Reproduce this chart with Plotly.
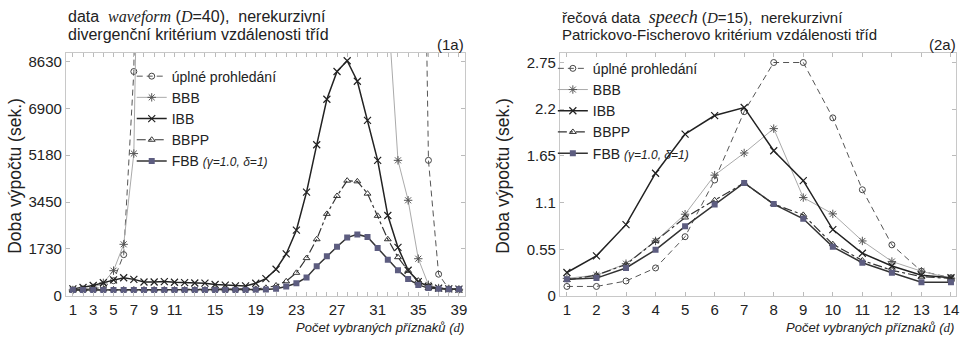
import plotly.graph_objects as go

# ---------------- data: waveform (D=40), d = 1..39 ----------------
d_wave = list(range(1, 40))
wave_exh = [220, 235, 260, 320, 560, 1520, 8260, 40000] + [None]*26 + [30000, 4990, 800, 260, 235]
wave_bbb = [220, 250, 300, 480, 930, 1900, 5240, 27000] + [None]*23 + [10700, 4990, 3520, 1370, 410, 290, 260, 245]
wave_ibb = [260, 310, 385, 490, 590, 670, 610, 515, 515, 528, 503, 490, 476, 470, 420, 396, 370, 370,
            467, 636, 982, 1546, 2420, 3822, 5563, 7239, 8259, 8655, 7900, 6462, 4987, 2959, 1787,
            946, 528, 349, 288, 260, 250]
wave_bbpp = [220, 225, 230, 235, 240, 235, 235, 235, 235, 235, 235, 235, 235, 235, 235, 235, 240, 245,
             260, 300, 385, 540, 852, 1392, 2086, 3020, 3680, 4243, 4218, 3765, 2949, 2086, 1427,
             924, 565, 349, 270, 250, 245]
wave_fbb = [216, 216, 216, 216, 216, 216, 216, 216, 216, 216, 216, 216, 216, 216, 216, 216, 216, 220,
            225, 240, 266, 349, 467, 683, 1090, 1463, 1809, 2147, 2265, 2168, 1762, 1330, 946,
            622, 406, 288, 262, 250, 250]
wave_yticks = [0, 1730, 3450, 5180, 6900, 8630]
wave_xlabels = [1, 3, 5, 7, 9, 11, 15, 19, 23, 27, 31, 35, 39]

# ---------------- data: speech (D=15), d = 1..14 ----------------
d_speech = list(range(1, 15))
sp_exh = [0.112, 0.112, 0.176, 0.33, 0.698, 1.366, 2.171, 2.75, 2.75, 2.098, 1.251, 0.602, 0.291, 0.215]
sp_bbb = [0.207, 0.245, 0.38, 0.648, 0.963, 1.423, 1.684, 1.971, 1.159, 0.967, 0.648, 0.406, 0.291, 0.207]
sp_ibb = [0.276, 0.472, 0.84, 1.446, 1.907, 2.125, 2.22, 1.711, 1.358, 0.782, 0.503, 0.353, 0.245, 0.215]
sp_bbpp = [0.188, 0.245, 0.37, 0.648, 0.924, 1.128, 1.331, 1.082, 0.955, 0.61, 0.418, 0.303, 0.227, 0.207]
sp_fbb = [0.196, 0.21, 0.33, 0.544, 0.82, 1.078, 1.331, 1.082, 0.909, 0.579, 0.391, 0.273, 0.161, 0.161]
sp_yticks = [0, 0.55, 1.1, 1.65, 2.2, 2.75]

names = ["úplné prohledání", "BBB", "IBB", "BBPP",
         "FBB <span style='font-size:12px'><i>(γ=1.0, δ=1)</i></span>"]

W, H = 961, 344
FONT = "Liberation Sans, Arial, sans-serif"
TXT = "#222222"

styles = [
    dict(line=dict(color="#555555", width=1, dash="6px,4px"),
         marker=dict(symbol="circle-open", size=6, color="#444444", line=dict(width=1))),
    dict(line=dict(color="#aaaaaa", width=1),
         marker=dict(symbol="asterisk-open", size=7, color="#555555", line=dict(width=1))),
    dict(line=dict(color="#222222", width=1.5),
         marker=dict(symbol="x-thin-open", size=7, color="#222222", line=dict(width=1.2))),
    dict(line=dict(color="#333333", width=1.2, dash="dashdot"),
         marker=dict(symbol="triangle-up-open", size=6, color="#333333", line=dict(width=1))),
    dict(line=dict(color="#333333", width=1.5),
         marker=dict(symbol="square", size=6, color="#5d5d80", line=dict(width=0))),
]

fig = go.Figure()

wave_series = [wave_exh, wave_bbb, wave_ibb, wave_bbpp, wave_fbb]
sp_series = [sp_exh, sp_bbb, sp_ibb, sp_bbpp, sp_fbb]

for i, ys in enumerate(wave_series):
    fig.add_trace(go.Scatter(x=d_wave, y=ys, mode="lines+markers", name=names[i],
                             xaxis="x", yaxis="y", legend="legend", cliponaxis=True,
                             **styles[i]))
for i, ys in enumerate(sp_series):
    fig.add_trace(go.Scatter(x=d_speech, y=ys, mode="lines+markers", name=names[i],
                             xaxis="x2", yaxis="y2", legend="legend2", cliponaxis=True,
                             **styles[i]))

def px_x(p):
    return p / W

def px_y(p):
    return 1 - p / H

axis_common = dict(showline=True, linecolor="#c8c8c8", linewidth=1, mirror="ticks",
                   ticks="inside", ticklen=4, tickcolor="#bbbbbb", showgrid=False,
                   zeroline=False, tickfont=dict(family=FONT, size=15, color=TXT))

ydom = [px_y(303), px_y(54)]

fig.update_layout(
    width=W, height=H, margin=dict(l=0, r=0, t=0, b=0),
    paper_bgcolor="white", plot_bgcolor="white",
    font=dict(family=FONT, color=TXT),
    xaxis=dict(domain=[px_x(66), px_x(466)], range=[0.31, 39.6], anchor="y",
               tickvals=d_wave,
               ticktext=[str(v) if v in wave_xlabels else "" for v in d_wave],
               **axis_common),
    yaxis=dict(domain=ydom, range=[0, 8950], anchor="x",
               tickvals=wave_yticks, ticktext=[str(v) for v in wave_yticks],
               **axis_common),
    xaxis2=dict(domain=[px_x(561), px_x(958)], range=[0.76, 14.17], anchor="y2",
                tickvals=d_speech, ticktext=[str(v) for v in d_speech],
                **axis_common),
    yaxis2=dict(domain=ydom, range=[0, 2.865], anchor="x2",
                tickvals=sp_yticks, ticktext=[str(v) for v in sp_yticks],
                **axis_common),
    legend=dict(x=px_x(132), y=px_y(62), xanchor="left", yanchor="top",
                bgcolor="rgba(255,255,255,0)", font=dict(family=FONT, size=14, color=TXT),
                itemwidth=30, tracegroupgap=0),
    legend2=dict(x=px_x(554), y=px_y(54), xanchor="left", yanchor="top",
                 bgcolor="rgba(255,255,255,0)", font=dict(family=FONT, size=14, color=TXT),
                 itemwidth=30, tracegroupgap=0),
    showlegend=True,
)

serif = "font-family:\"Liberation Serif\", \"Times New Roman\", serif"
ann = [
    dict(text=f"data  <span style='{serif}; font-size:16px'><i>waveform</i></span> (<span style='{serif}'><i>D</i></span>=40),  nerekurzivní",
         x=px_x(66), y=px_y(17), xanchor="left", yanchor="middle",
         font=dict(family=FONT, size=16, color=TXT)),
    dict(text="divergenční kritérium vzdálenosti tříd",
         x=px_x(66), y=px_y(35), xanchor="left", yanchor="middle",
         font=dict(family=FONT, size=16, color=TXT)),
    dict(text="(1a)", x=px_x(467), y=px_y(46), xanchor="right", yanchor="middle"),
    dict(text=f"řečová data  <span style='{serif}; font-size:18px'><i>speech</i></span> (<span style='{serif}'><i>D</i></span>=15),  nerekurzivní",
         x=px_x(561), y=px_y(17), xanchor="left", yanchor="middle"),
    dict(text="Patrickovo-Fischerovo kritérium vzdálenosti tříd",
         x=px_x(561), y=px_y(35), xanchor="left", yanchor="middle"),
    dict(text="(2a)", x=px_x(960), y=px_y(46), xanchor="right", yanchor="middle"),
    dict(text="Doba výpočtu (sek.)", x=px_x(15), y=px_y(180), textangle=-90,
         xanchor="center", yanchor="middle", font=dict(family=FONT, size=17.5, color=TXT)),
    dict(text="Doba výpočtu (sek.)", x=px_x(504), y=px_y(180), textangle=-90,
         xanchor="center", yanchor="middle", font=dict(family=FONT, size=17.5, color=TXT)),
    dict(text=f"<i>Počet vybraných příznaků (<span style='{serif}'>d</span>)</i>",
         x=px_x(467), y=px_y(335), xanchor="right", yanchor="middle",
         font=dict(family=FONT, size=13, color=TXT)),
    dict(text=f"<i>Počet vybraných příznaků (<span style='{serif}'>d</span>)</i>",
         x=px_x(958), y=px_y(335), xanchor="right", yanchor="middle",
         font=dict(family=FONT, size=13, color=TXT)),
]
for a in ann:
    a.setdefault("font", dict(family=FONT, size=15, color=TXT))
    a.update(xref="paper", yref="paper", showarrow=False)
fig.update_layout(annotations=ann)

fig.write_html("out.html")
